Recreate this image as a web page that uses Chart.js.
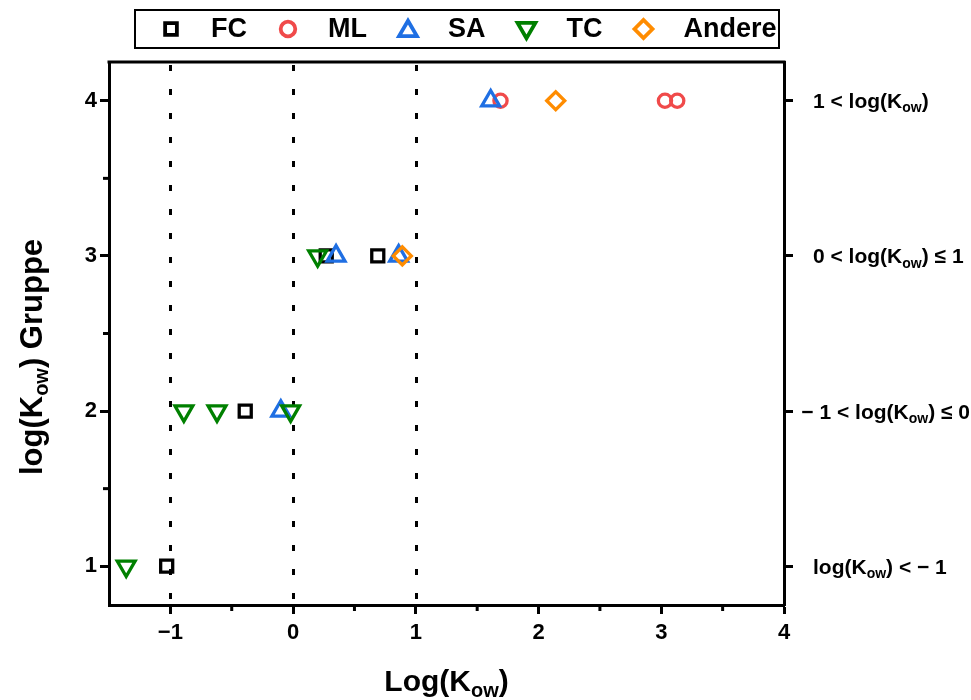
<!DOCTYPE html>
<html><head><meta charset="utf-8">
<script src="https://cdn.jsdelivr.net/npm/chart.js@4.4.1/dist/chart.umd.min.js"></script>
<style>html,body{margin:0;padding:0;background:#fff}#wrap{width:971px;height:700px;position:relative}</style>
</head><body><div id="wrap"><canvas id="c"></canvas></div>
<script>
// ---- data ----
const seriesNames = ['FC', 'ML', 'SA', 'TC', 'Andere'];
const fcX = [-1.03, -0.39, 0.27, 0.69];
const fcY = [1, 2, 3, 3];
const mlX = [1.69, 3.03, 3.13];
const mlY = [4, 4, 4];
const saX = [-0.10, 0.35, 0.86, 1.61];
const saY = [2, 3, 3, 4];
const tcX = [-1.36, -0.89, -0.62, -0.02, 0.20];
const tcY = [1, 2, 2, 2, 3];
const andereX = [0.89, 2.14];
const andereY = [3, 4];
const xTicks = [-1, 0, 1, 2, 3, 4];
const xTickLabels = ['\u22121', '0', '1', '2', '3', '4'];
const xMinor = [-0.5, 0.5, 1.5, 2.5, 3.5];
const yTicks = [1, 2, 3, 4];
const yTickLabels = ['1', '2', '3', '4'];
const yMinor = [1.5, 2.5, 3.5];
const rightLabels = ['log(K_{ow}) < \u2212 1', '\u2212 1 < log(K_{ow}) \u2264 0', '0 < log(K_{ow}) \u2264 1', '1 < log(K_{ow})'];
const refLines = [-1, 0, 1];
const xTitle = 'Log(K_{ow})';
const yTitle = 'log(K_{ow}) Gruppe';

const FONT = '"Liberation Sans", Arial, Helvetica, sans-serif';
const colors = ['#000000', '#f04a4a', '#1f6fe3', '#008000', '#ff8c00'];
const styles = [
  {pointStyle: 'rect', radius: 8.5, rotation: 0},
  {pointStyle: 'circle', radius: 6.6, rotation: 0},
  {pointStyle: 'triangle', radius: 10.3, rotation: 0},
  {pointStyle: 'triangle', radius: 10.3, rotation: 180},
  {pointStyle: 'rectRot', radius: 9, rotation: 0}
];
const xs = [fcX, mlX, saX, tcX, andereX];
const ys = [fcY, mlY, saY, tcY, andereY];

function pts(xa, ya) { return xa.map((x, i) => ({x: x, y: ya[i]})); }

const datasets = seriesNames.map((name, i) => ({
  label: name,
  data: pts(xs[i], ys[i]),
  showLine: false,
  pointStyle: styles[i].pointStyle,
  pointRadius: styles[i].radius,
  pointRotation: styles[i].rotation,
  pointBorderWidth: 3.3,
  pointBorderColor: colors[i],
  pointBackgroundColor: 'rgba(0,0,0,0)',
  borderColor: colors[i],
  backgroundColor: 'rgba(0,0,0,0)',
  order: seriesNames.length - i,
  clip: false
}));

// ---- rich text helpers ----
function parseRich(s) {
  const parts = []; const re = /_\{([^}]*)\}/g; let last = 0, m;
  while ((m = re.exec(s))) {
    if (m.index > last) parts.push({t: s.slice(last, m.index), sub: false});
    parts.push({t: m[1], sub: true}); last = re.lastIndex;
  }
  if (last < s.length) parts.push({t: s.slice(last), sub: false});
  return parts;
}
function richWidth(ctx, s, size) {
  let w = 0;
  for (const p of parseRich(s)) {
    ctx.font = 'bold ' + (p.sub ? Math.round(size * 0.66) : size) + 'px ' + FONT;
    w += ctx.measureText(p.t).width;
  }
  return w;
}
function drawRich(ctx, s, x, y, size, align) {
  const w = richWidth(ctx, s, size);
  let cx = align === 'center' ? x - w / 2 : (align === 'right' ? x - w : x);
  ctx.textBaseline = 'alphabetic'; ctx.textAlign = 'left'; ctx.fillStyle = '#000';
  for (const p of parseRich(s)) {
    const fs = p.sub ? Math.round(size * 0.66) : size;
    ctx.font = 'bold ' + fs + 'px ' + FONT;
    ctx.fillText(p.t, cx, p.sub ? y + size * 0.2 : y);
    cx += ctx.measureText(p.t).width;
  }
  return w;
}

const decor = {
  id: 'decor',
  beforeDatasetsDraw(chart) {
    const ctx = chart.ctx, a = chart.chartArea, sx = chart.scales.x;
    ctx.save();
    ctx.strokeStyle = '#000'; ctx.lineWidth = 3; ctx.setLineDash([6, 18]);
    for (const v of refLines) {
      const px = Math.round(sx.getPixelForValue(v)) + 0.5;
      ctx.beginPath(); ctx.moveTo(px, a.top + 3); ctx.lineTo(px, a.bottom); ctx.stroke();
    }
    ctx.restore();
  },
  afterDraw(chart) {
    const ctx = chart.ctx, a = chart.chartArea, sx = chart.scales.x, sy = chart.scales.y;
    ctx.save();
    ctx.strokeStyle = '#000'; ctx.lineWidth = 3;
    // top frame
    ctx.beginPath(); ctx.moveTo(a.left - 1.5, a.top); ctx.lineTo(a.right + 1.5, a.top); ctx.stroke();
    // minor ticks
    for (const v of xMinor) {
      const px = sx.getPixelForValue(v);
      ctx.beginPath(); ctx.moveTo(px, a.bottom); ctx.lineTo(px, a.bottom + 6); ctx.stroke();
    }
    for (const v of yMinor) {
      const py = sy.getPixelForValue(v);
      ctx.beginPath(); ctx.moveTo(a.left, py); ctx.lineTo(a.left - 6, py); ctx.stroke();
    }
    // right labels
    yTicks.forEach((v, i) => {
      const py = sy.getPixelForValue(v);
      const w = richWidth(ctx, rightLabels[i], 21);
      let lx = a.right + 29;
      if (lx + w > chart.width - 1) lx = chart.width - 1 - w;
      drawRich(ctx, rightLabels[i], lx, py + 7.5, 21, 'left');
    });
    // x title
    drawRich(ctx, xTitle, (a.left + a.right) / 2, 691, 30, 'center');
    // y title
    ctx.save();
    ctx.translate(42, 357); ctx.rotate(-Math.PI / 2);
    drawRich(ctx, yTitle, 0, 0, 31, 'center');
    ctx.restore();
    // legend
    const lx0 = 135, ly0 = 10, lx1 = 779, ly1 = 48, lyc = 29;
    ctx.lineWidth = 2; ctx.setLineDash([]);
    ctx.strokeRect(lx0, ly0, lx1 - lx0, ly1 - ly0);
    let mx = 171;
    ctx.font = 'bold 27px ' + FONT;
    seriesNames.forEach((name, i) => {
      ctx.save();
      ctx.strokeStyle = colors[i]; ctx.fillStyle = 'rgba(0,0,0,0)'; ctx.lineWidth = 3.8;
      const r = i === 0 ? 8.3 : (i === 1 ? 7.3 : styles[i].radius);
      Chart.helpers.drawPoint(ctx, {pointStyle: styles[i].pointStyle, radius: r, rotation: styles[i].rotation, borderWidth: 3.8}, mx, lyc + (i === 3 ? -1 : (i === 2 ? 2 : 0)));
      ctx.restore();
      ctx.font = 'bold 27px ' + FONT; ctx.fillStyle = '#000'; ctx.textAlign = 'left'; ctx.textBaseline = 'middle';
      ctx.fillText(name, mx + 40, lyc + 1);
      mx = mx + 40 + ctx.measureText(name).width + 41;
    });
    ctx.restore();
  }
};

const tickFont = {family: FONT, size: 22, weight: 'bold'};
new Chart(document.getElementById('c'), {
  type: 'scatter',
  data: {datasets: datasets},
  plugins: [decor],
  options: {
    responsive: true, maintainAspectRatio: false, animation: false, events: [],
    layout: {padding: {top: 62, left: 0, right: 0, bottom: 0}},
    plugins: {legend: {display: false}, tooltip: {enabled: false}},
    scales: {
      x: {
        type: 'linear', min: -1.5, max: 4,
        afterBuildTicks: s => { s.ticks = xTicks.map(v => ({value: v})); },
        afterFit: s => { s.height = 95; },
        ticks: {font: tickFont, color: '#000', padding: 6, maxRotation: 0, autoSkip: false,
          callback: (v) => { const i = xTicks.indexOf(v); return i >= 0 ? xTickLabels[i] : ''; }},
        grid: {drawOnChartArea: false, drawTicks: true, tickLength: 9, tickWidth: 3, tickColor: '#000'},
        border: {display: true, color: '#000', width: 3}
      },
      y: {
        type: 'linear', position: 'left', min: 0.75, max: 4.25,
        afterBuildTicks: s => { s.ticks = yTicks.map(v => ({value: v})); },
        afterFit: s => { s.width = 109; },
        ticks: {font: tickFont, color: '#000', padding: 3, autoSkip: false,
          callback: (v) => { const i = yTicks.indexOf(v); return i >= 0 ? yTickLabels[i] : ''; }},
        grid: {drawOnChartArea: false, drawTicks: true, tickLength: 9, tickWidth: 3, tickColor: '#000'},
        border: {display: true, color: '#000', width: 3}
      },
      y2: {
        type: 'linear', position: 'right', min: 0.75, max: 4.25,
        afterBuildTicks: s => { s.ticks = yTicks.map(v => ({value: v})); },
        afterFit: s => { s.width = 187; },
        ticks: {display: false},
        grid: {drawOnChartArea: false, drawTicks: true, tickLength: 9, tickWidth: 3, tickColor: '#000'},
        border: {display: true, color: '#000', width: 3}
      }
    }
  }
});
</script>
</body></html>
